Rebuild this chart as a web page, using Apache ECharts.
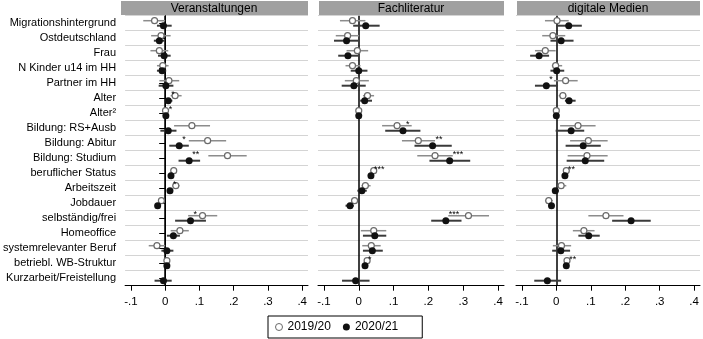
<!DOCTYPE html>
<html><head><meta charset="utf-8">
<script src="https://cdn.jsdelivr.net/npm/echarts@6/dist/echarts.min.js"></script>
<style>html,body{margin:0;padding:0;background:#fff}#c{width:703px;height:339px}</style>
</head><body><div id="c"></div>
<script>
const categories = ['Migrationshintergrund','Ostdeutschland','Frau','N Kinder u14 im HH','Partner im HH','Alter','Alter²','Bildung: RS+Ausb','Bildung: Abitur','Bildung: Studium','beruflicher Status','Arbeitszeit','Jobdauer','selbständig/frei','Homeoffice','systemrelevanter Beruf','betriebl. WB-Struktur','Kurzarbeit/Freistellung'];
const panelTitles = ['Veranstaltungen','Fachliteratur','digitale Medien'];
const tickValues = [-0.1, 0, 0.1, 0.2, 0.3, 0.4];
const yearNames = ['2019/20','2020/21'];

// [estimate, lower CI, upper CI]
const veranstaltungen2019 = [[-0.031,-0.064,0.000],[-0.012,-0.041,0.016],[-0.017,-0.043,0.009],[-0.007,-0.024,0.010],[0.011,-0.017,0.041],[0.029,0.016,0.048],[0.001,-0.003,0.005],[0.078,0.026,0.131],[0.124,0.069,0.178],[0.182,0.126,0.238],[0.025,0.018,0.034],[0.031,0.021,0.042],[-0.011,-0.019,-0.003],[0.109,0.067,0.152],[0.043,0.016,0.069],[-0.024,-0.048,0.000],[0.005,0.000,0.010],null];
const veranstaltungen2020 = [[-0.005,-0.024,0.019],[-0.017,-0.033,-0.002],[-0.003,-0.021,0.016],[-0.009,-0.024,0.003],[0.002,-0.019,0.024],[0.009,0.000,0.021],[0.002,-0.002,0.006],[0.009,-0.014,0.033],[0.041,0.012,0.069],[0.070,0.039,0.102],[0.017,0.012,0.024],[0.014,0.010,0.020],[-0.022,-0.030,-0.014],[0.074,0.029,0.119],[0.024,0.005,0.043],[0.005,-0.011,0.024],[0.005,0.001,0.009],[-0.005,-0.031,0.019]];
const veranstaltungenStars = ['','','','','','*','*','','*','**','','*','','*','','','',''];

const fachliteratur2019 = [[-0.018,-0.054,0.019],[-0.032,-0.066,0.001],[-0.004,-0.035,0.027],[-0.018,-0.038,0.005],[-0.007,-0.040,0.029],[0.025,0.012,0.044],[0.000,-0.003,0.003],[0.110,0.067,0.152],[0.171,0.124,0.219],[0.219,0.168,0.270],[0.043,0.036,0.049],[0.019,0.008,0.034],[-0.012,-0.021,-0.004],[0.315,0.257,0.374],[0.043,0.006,0.079],[0.036,0.010,0.063],[0.024,0.017,0.031],null];
const fachliteratur2020 = [[0.020,-0.016,0.060],[-0.035,-0.071,-0.002],[-0.031,-0.059,-0.002],[0.000,-0.023,0.025],[-0.014,-0.049,0.020],[0.017,0.004,0.038],[0.000,-0.003,0.003],[0.127,0.076,0.177],[0.212,0.160,0.267],[0.261,0.203,0.320],[0.035,0.028,0.042],[0.009,-0.004,0.023],[-0.025,-0.038,-0.014],[0.250,0.208,0.295],[0.046,0.012,0.079],[0.039,0.012,0.069],[0.018,0.010,0.026],[-0.009,-0.048,0.031]];
const fachliteraturStars = ['','','','','','','','*','**','***','***','','','***','','','*',''];

const digitaleMedien2019 = [[0.002,-0.033,0.036],[-0.010,-0.041,0.026],[-0.032,-0.062,-0.002],[-0.002,-0.013,0.017],[0.027,-0.007,0.062],[0.019,0.007,0.029],[0.000,-0.002,0.002],[0.063,0.011,0.114],[0.093,0.040,0.149],[0.089,0.033,0.149],[0.029,0.022,0.036],[0.014,0.005,0.029],[-0.022,-0.033,-0.010],[0.144,0.093,0.195],[0.080,0.048,0.111],[0.015,-0.010,0.043],[0.031,0.026,0.038],null];
const digitaleMedien2020 = [[0.036,0.000,0.074],[0.014,-0.017,0.050],[-0.050,-0.076,-0.021],[0.001,-0.017,0.023],[-0.029,-0.062,0.005],[0.037,0.025,0.056],[0.000,-0.002,0.002],[0.043,-0.002,0.081],[0.078,0.027,0.129],[0.084,0.030,0.139],[0.025,0.020,0.032],[-0.003,-0.011,0.007],[-0.014,-0.021,-0.007],[0.217,0.162,0.274],[0.094,0.064,0.126],[0.013,-0.012,0.040],[0.029,0.024,0.033],[-0.026,-0.064,0.014]];
const digitaleMedienStars = ['','','','','*','','','','','','**','','','','','','**',''];

const panels = [
  {title: panelTitles[0], a: veranstaltungen2019, b: veranstaltungen2020, stars: veranstaltungenStars},
  {title: panelTitles[1], a: fachliteratur2019, b: fachliteratur2020, stars: fachliteraturStars},
  {title: panelTitles[2], a: digitaleMedien2019, b: digitaleMedien2020, stars: digitaleMedienStars}
];

const FONT = '"Liberation Sans", Arial, sans-serif';
const layout = [{left:120,width:188},{left:318,width:186},{left:516,width:184}];
const TOP = 15.7, HEIGHT = 270;

function fmt(v){ if (Math.abs(v) < 1e-9) return '0'; return v.toFixed(1).replace('0.', '.'); }

function makeSeries(gi, triples, stars, hollow){
  const data = [];
  triples.forEach((t, i) => { if (t) data.push([i, t[0], t[1], t[2]]); });
  return {
    type: 'custom', name: hollow ? yearNames[0] : yearNames[1],
    xAxisIndex: gi, yAxisIndex: gi, z: hollow ? 3 : 4,
    itemStyle: hollow ? {color:'#ffffff', borderColor:'#707070'} : {color:'#111111'},
    encode: {x:[1,2,3], y:0},
    data: data,
    renderItem: function(params, api){
      const idx = api.value(0);
      const pe = api.coord([api.value(1), idx]);
      const pl = api.coord([api.value(2), idx]);
      const ph = api.coord([api.value(3), idx]);
      const y = pe[1] + (hollow ? -2.5 : 2.5);
      const ch = [
        {type:'line', shape:{x1:pl[0], y1:y, x2:ph[0], y2:y}, style:{stroke: hollow ? '#8c8c8c' : '#3a3a3a', lineWidth: hollow ? 1.5 : 2}},
        {type:'circle', shape:{cx:pe[0], cy:y, r: hollow ? 3 : 3.5}, style: hollow ? {fill:'#ffffff', stroke:'#6a6a6a', lineWidth:1.2} : {fill:'#111111', stroke:null}}
      ];
      if (!hollow && stars && stars[idx]) {
        ch.push({type:'text', x: pe[0] + 3, y: y - 6.5, style:{text: stars[idx], font: '9px ' + FONT, fill:'#000', align:'left', verticalAlign:'middle'}});
      }
      return {type:'group', children: ch};
    }
  };
}

const grids = [], xAxes = [], yAxes = [], series = [], graphics = [];
panels.forEach((p, gi) => {
  const L = layout[gi];
  grids.push({left: L.left, top: TOP, width: L.width, height: HEIGHT});
  xAxes.push({
    type:'value', gridIndex: gi, min: -0.117, max: 0.417,
    axisLine:{show:true, lineStyle:{color:'#000', width:1}},
    axisTick:{show:true, customValues: tickValues, length:5, lineStyle:{color:'#000'}},
    axisLabel:{show:true, customValues: tickValues, formatter: fmt, color:'#000', fontSize:11.5, fontFamily: FONT, margin:10},
    splitLine:{show:false}
  });
  yAxes.push({
    type:'category', gridIndex: gi, data: categories, inverse: true, boundaryGap: true,
    axisLine:{show: gi === 0, lineStyle:{color:'#000', width:1}},
    axisTick:{show: gi === 0, alignWithLabel:true, length:6, lineStyle:{color:'#000'}},
    axisLabel:{show: gi === 0, color:'#000', fontSize:11, fontFamily: FONT, margin:9, interval:0},
    splitLine:{show:true, interval:0, lineStyle:{color:'#d4d4d4', width:1}}
  });
  series.push({
    type:'line', xAxisIndex: gi, yAxisIndex: gi, data: [], silent: true,
    markLine:{silent:true, symbol:'none', z:1, label:{show:false}, lineStyle:{color:'#000', width:1.5, type:'solid'}, data:[{xAxis:0}]}
  });
  series.push(makeSeries(gi, p.a, null, true));
  series.push(makeSeries(gi, p.b, p.stars, false));
  graphics.push({type:'rect', shape:{x:L.left + 1, y:1, width:L.width - 1, height:14}, style:{fill:'#a0a0a0'}, z:10});
  graphics.push({type:'text', x:L.left + L.width/2, y:8.2, style:{text:p.title, font:'12px ' + FONT, fill:'#000', align:'center', verticalAlign:'middle'}, z:11});
});

const chart = echarts.init(document.getElementById('c'), null, {renderer:'canvas'});
chart.setOption({
  animation:false,
  backgroundColor:'#fff',
  textStyle:{fontFamily: FONT},
  grid: grids, xAxis: xAxes, yAxis: yAxes, series: series, graphic: graphics,
  legend:{
    left: 268, top: 316, orient:'horizontal',
    borderColor:'#000', borderWidth:1, borderRadius:0, backgroundColor:'#fff',
    padding:[5,24,5,7], itemGap:12, itemWidth:7, itemHeight:7,
    textStyle:{color:'#000', fontSize:12, fontFamily: FONT},
    data:[
      {name: yearNames[0], icon:'circle', itemStyle:{color:'#ffffff', borderColor:'#6a6a6a', borderWidth:1}},
      {name: yearNames[1], icon:'circle', itemStyle:{color:'#111111'}}
    ]
  }
});
</script></body></html>
